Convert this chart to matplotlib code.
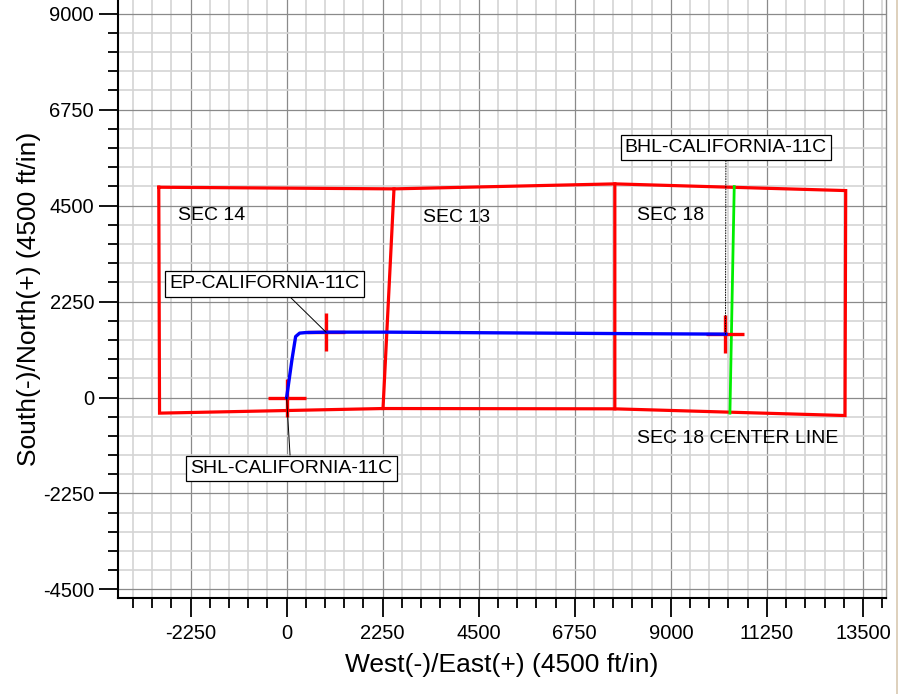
"""
Well plan view: section outlines and wellbore path (California-11C)
"""
import matplotlib.pyplot as plt
from matplotlib.lines import Line2D
from matplotlib.ticker import MultipleLocator

plt.rcParams['font.family'] = ['Liberation Sans', 'DejaVu Sans']
plt.rcParams['axes.unicode_minus'] = False

# Section outlines (ft)
sec14_x = [-2995, 2515, 2258, -2977, -2995]
sec14_y = [4930, 4892, -258, -366, 4930]
sec13_x = [2515, 7688, 7688, 2258]
sec13_y = [4892, 5009, -265, -258]
sec18_x = [7688, 13096, 13080, 7688]
sec18_y = [5009, 4852, -422, -265]

# Section 18 center line
center_x = [10485, 10384]
center_y = [4946, -366]

# Wellbore path (ft)
well_x = [0, 124, 211, 305, 462, 930, 2337, 7641, 10290]
well_y = [0, 884, 1430, 1510, 1524, 1533, 1533, 1500, 1486]

# Well points: SHL, EP, BHL
pt_names = ['SHL-CALIFORNIA-11C', 'EP-CALIFORNIA-11C', 'BHL-CALIFORNIA-11C']
pt_x = [0, 926, 10280]
pt_y = [0, 1528, 1480]
label_x = [110, -516, 10290]
label_y = [-1660, 2662, 5865]

sec_names = ['SEC 14', 'SEC 13', 'SEC 18', 'SEC 18 CENTER LINE']
sec_lx = [-2555, 3188, 8204, 8204]
sec_ly = [4259, 4212, 4259, -968]

fig = plt.figure(figsize=(8.98, 6.94), dpi=100)
ax = fig.add_axes([118 / 898, 96 / 694, 768 / 898, 598 / 694])

# Sections
for xs, ys in [(sec14_x, sec14_y), (sec13_x, sec13_y), (sec18_x, sec18_y)]:
    ax.plot(xs, ys, color='#ff0000', linewidth=2.3, solid_joinstyle='miter', zorder=3)
ax.plot(center_x, center_y, color='#00ee00', linewidth=2.0, zorder=3)

# Well markers and path
ax.plot(pt_x, pt_y, '+', color='#ff0000', markersize=28, markeredgewidth=2.4, zorder=4)
ax.plot(well_x, well_y, color='#0000ff', linewidth=2.4, zorder=5)

for name, lx, ly in zip(sec_names, sec_lx, sec_ly):
    ax.text(lx, ly, name, fontsize=14, ha='left', va='center', zorder=6)

styles = ['-', '-', ':']
relpos = [(0.495, 1.0), (0.61, 0.0), (0.5, 0.0)]
for name, px, py, lx, ly, ls, rp in zip(pt_names, pt_x, pt_y, label_x, label_y, styles, relpos):
    ax.annotate(name, xy=(px, py), xytext=(lx, ly), fontsize=14,
                ha='center', va='center', zorder=7,
                bbox=dict(boxstyle='square,pad=0.22', facecolor='white',
                          edgecolor='black', linewidth=0.9),
                arrowprops=dict(arrowstyle='-', color='black', linewidth=0.7,
                                linestyle=ls, relpos=rp, shrinkA=0, shrinkB=0))

ax.set_xlim(-3950, 14040)
ax.set_ylim(-4700, 9320)

ax.xaxis.set_major_locator(MultipleLocator(2250))
ax.xaxis.set_minor_locator(MultipleLocator(450))
ax.yaxis.set_major_locator(MultipleLocator(2250))
ax.yaxis.set_minor_locator(MultipleLocator(450))

ax.grid(True, which='minor', color='#d4d4d4', linewidth=1.2, zorder=0)
ax.grid(True, which='major', color='#8a8a8a', linewidth=0.9, zorder=0)
ax.set_axisbelow(True)

ax.tick_params(which='major', direction='out', length=13.7, width=1.3,
               labelsize=14.5, pad=3.5)
ax.tick_params(which='minor', direction='out', length=7.2, width=1.3)
ax.tick_params(top=False, right=False, which='both')
ax.tick_params(axis='x', which='major', pad=5)

for side in ['left', 'bottom']:
    ax.spines[side].set_linewidth(1.5)
ax.spines['top'].set_visible(False)
ax.spines['right'].set_color('#8a8a8a')
ax.spines['right'].set_linewidth(1.0)

ax.set_xlabel('West(-)/East(+) (4500 ft/in)', fontsize=19, labelpad=7)
ax.set_ylabel('South(-)/North(+) (4500 ft/in)', fontsize=19, labelpad=1)

# thin frame edge at right of the image
fig.add_artist(Line2D([896.5 / 898, 896.5 / 898], [0, 1], color='#d8c8b0', linewidth=1.2))

plt.savefig('out.png', dpi=100)
plt.close()
